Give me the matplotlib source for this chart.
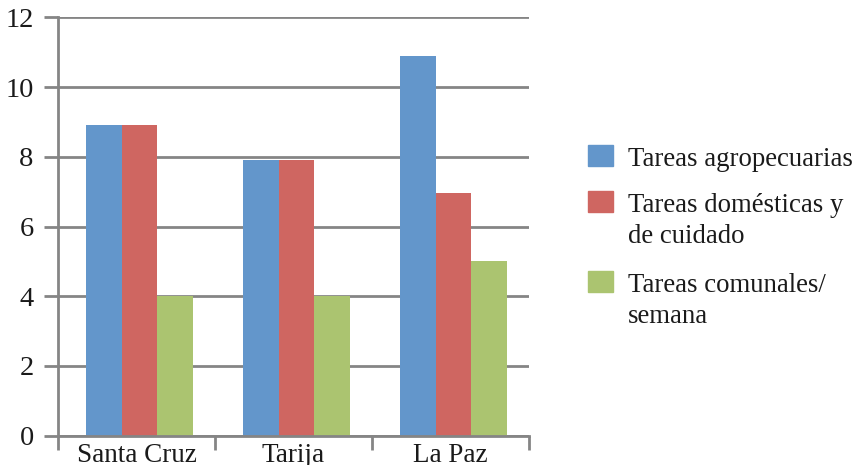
import numpy as np
import matplotlib.pyplot as plt
from matplotlib.patches import Rectangle

plt.rcParams['font.family'] = ['Liberation Serif', 'DejaVu Serif']

regiones = ["Santa Cruz", "Tarija", "La Paz"]
series = ["Tareas agropecuarias", "Tareas domésticas y\nde cuidado", "Tareas comunales/\nsemana"]
agropecuarias = [8.9, 7.9, 10.9]
domesticas = [8.9, 7.9, 6.95]
comunales = [4.0, 4.0, 5.0]
colores = ["#6396CB", "#CF6661", "#ABC470"]

W, H = 856, 465
fig = plt.figure(figsize=(W / 100, H / 100), dpi=100)
ax = fig.add_axes([58 / W, 1 - 435.7 / H, (529 - 58) / W, (435.7 - 17.3) / H])

x = np.arange(len(regiones))
ancho = 0.226
for i, (vals, c) in enumerate(zip([agropecuarias, domesticas, comunales], colores)):
    ax.bar(x + 0.02 + (i - 1) * ancho, vals, ancho, color=c, zorder=3)

gris = "#858585"
ax.set_xlim(-0.5, 2.5)
ax.set_ylim(0, 12)
ax.set_yticks(range(0, 13, 2))
ax.yaxis.grid(True, color=gris, linewidth=2, zorder=1)
ax.set_xticks(x)
ax.set_xticklabels(regiones)
ax.set_xticks([-0.5, 0.5, 1.5, 2.5], minor=True)
ax.tick_params(axis='x', which='major', length=0, pad=5, labelsize=19.5, colors='#1a1a1a')
ax.tick_params(axis='x', which='minor', length=10, width=2, color=gris, direction='out')
ax.tick_params(axis='y', length=10, width=2, color=gris, pad=7.5, labelsize=20.5, labelcolor='#1a1a1a')
for s in ['top', 'right']:
    ax.spines[s].set_visible(False)
for s in ['left', 'bottom']:
    ax.spines[s].set_color(gris)
    ax.spines[s].set_linewidth(2)
    ax.spines[s].set_zorder(4)

# leyenda dibujada a mano: cuadro alineado con la primera línea del texto
bases = [166, 211.7, 292.3]
for nombre, c, yb in zip(series, colores, bases):
    fig.patches.append(Rectangle((588 / W, 1 - yb / H), 25 / W, 21 / H,
                                 transform=fig.transFigure, color=c))
    for k, linea in enumerate(nombre.split("\n")):
        fig.text(628 / W, 1 - (yb + k * 31) / H, linea, fontsize=19.3,
                 va='baseline', ha='left', color='#1a1a1a')

fig.savefig("out.png", dpi=100)
